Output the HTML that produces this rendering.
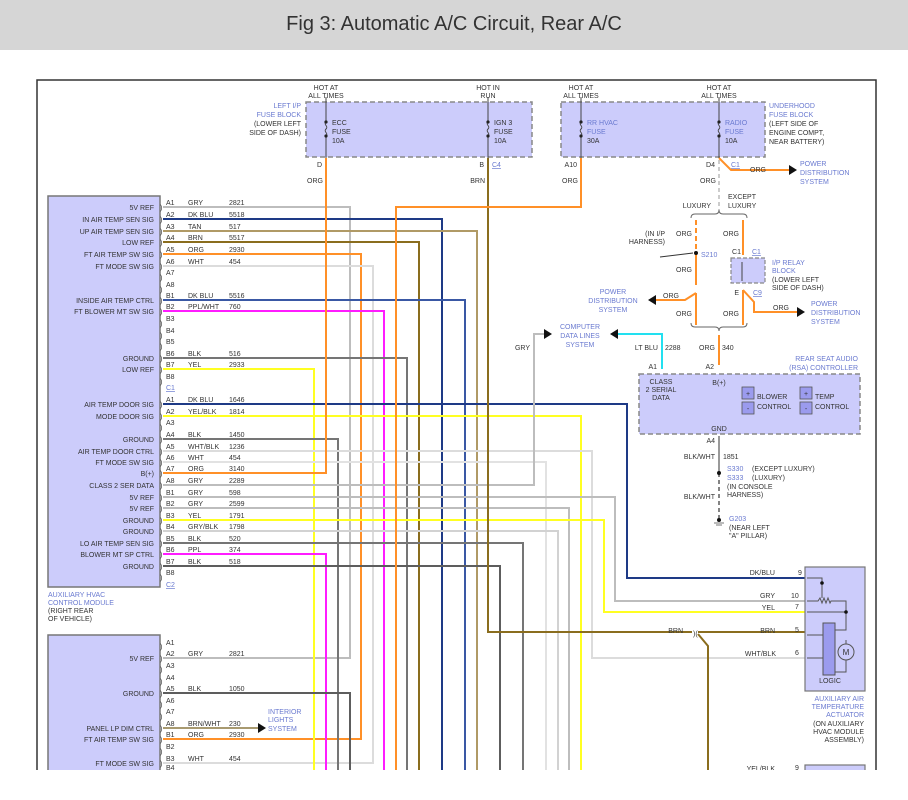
<!DOCTYPE html>
<html><head><meta charset="utf-8"><style>
html,body{margin:0;padding:0;background:#fff;width:908px;height:800px;overflow:hidden}
svg{display:block}
text{font-family:"Liberation Sans",sans-serif;font-size:7px;fill:#333}
.b{fill:#6a7ad0}
.r{text-anchor:end}
.m{text-anchor:middle}
</style></head><body>
<svg width="908" height="800" viewBox="0 0 908 800" xmlns="http://www.w3.org/2000/svg">
<rect x="0" y="0" width="908" height="50" fill="#d6d6d6"/>
<text x="454" y="30" class="m" style="font-size:20px;fill:#333">Fig 3: Automatic A/C Circuit, Rear A/C</text>
<!-- frame -->
<path d="M37,770 V80 H876 V770" fill="none" stroke="#333" stroke-width="1.5"/>

<!-- fuse blocks -->
<rect x="306" y="102" width="226" height="55" fill="#ccccfb" stroke="#888" stroke-dasharray="5,3" stroke-width="1.5"/>
<rect x="561" y="102" width="204" height="55" fill="#ccccfb" stroke="#888" stroke-dasharray="5,3" stroke-width="1.5"/>
<g fill="none" stroke="#444" stroke-width="1">
<path d="M326,97 V122 M326,136 V158 M326,122 c-3,3 3,4 0,7 c-3,3 3,4 0,7"/>
<path d="M488,97 V122 M488,136 V158 M488,122 c-3,3 3,4 0,7 c-3,3 3,4 0,7"/>
<path d="M581,97 V122 M581,136 V158 M581,122 c-3,3 3,4 0,7 c-3,3 3,4 0,7"/>
<path d="M719,97 V122 M719,136 V158 M719,122 c-3,3 3,4 0,7 c-3,3 3,4 0,7"/>
</g>
<g fill="#222"><circle cx="326" cy="122" r="1.6"/><circle cx="326" cy="136" r="1.6"/><circle cx="488" cy="122" r="1.6"/><circle cx="488" cy="136" r="1.6"/><circle cx="581" cy="122" r="1.6"/><circle cx="581" cy="136" r="1.6"/><circle cx="719" cy="122" r="1.6"/><circle cx="719" cy="136" r="1.6"/></g>
<text x="326" y="90" class="m">HOT AT</text><text x="326" y="98" class="m">ALL TIMES</text>
<text x="488" y="90" class="m">HOT IN</text><text x="488" y="98" class="m">RUN</text>
<text x="581" y="90" class="m">HOT AT</text><text x="581" y="98" class="m">ALL TIMES</text>
<text x="719" y="90" class="m">HOT AT</text><text x="719" y="98" class="m">ALL TIMES</text>
<text x="301" y="108" class="r b">LEFT I/P</text><text x="301" y="117" class="r b">FUSE BLOCK</text><text x="301" y="126" class="r">(LOWER LEFT</text><text x="301" y="135" class="r">SIDE OF DASH)</text>
<text x="332" y="125">ECC</text><text x="332" y="134">FUSE</text><text x="332" y="143">10A</text>
<text x="494" y="125">IGN 3</text><text x="494" y="134">FUSE</text><text x="494" y="143">10A</text>
<text x="587" y="125" class="b">RR HVAC</text><text x="587" y="134" class="b">FUSE</text><text x="587" y="143">30A</text>
<text x="725" y="125" class="b">RADIO</text><text x="725" y="134" class="b">FUSE</text><text x="725" y="143">10A</text>
<text x="769" y="108" class="b">UNDERHOOD</text><text x="769" y="117" class="b">FUSE BLOCK</text><text x="769" y="126">(LEFT SIDE OF</text><text x="769" y="135">ENGINE COMPT,</text><text x="769" y="144">NEAR BATTERY)</text>
<text x="322" y="167" class="r">D</text><text x="484" y="167" class="r">B</text><text x="492" y="167" class="b" text-decoration="underline">C4</text>
<text x="577" y="167" class="r">A10</text><text x="715" y="167" class="r">D4</text><text x="731" y="167" class="b" text-decoration="underline">C1</text>
<text x="323" y="183" class="r">ORG</text><text x="485" y="183" class="r">BRN</text><text x="578" y="183" class="r">ORG</text><text x="716" y="183" class="r">ORG</text>

<!-- module boxes -->
<rect x="48" y="196" width="112" height="391" fill="#ccccfb" stroke="#777" stroke-width="1.5"/>
<rect x="48" y="635" width="112" height="140" fill="#ccccfb" stroke="#777" stroke-width="1.5"/>
<text x="48" y="597" class="b">AUXILIARY HVAC</text><text x="48" y="605" class="b">CONTROL MODULE</text><text x="48" y="613">(RIGHT REAR</text><text x="48" y="621">OF VEHICLE)</text>

<!-- wires -->
<g fill="none" stroke-width="2">
<path d="M163,207 H350 V658 H163" stroke="#bdbdbd"/>
<path d="M163,219 H442 V770" stroke="#1e3a86"/>
<path d="M163,231 H477 V770" stroke="#b09a66"/>
<path d="M163,242 H419 V770" stroke="#8a6d1e"/>
<path d="M163,254 H361 V739 H163" stroke="#ff9028"/>
<path d="M163,266 H373 V763 H163" stroke="#dcdcdc"/>
<path d="M163,300 H465 V770" stroke="#3a58a4"/>
<path d="M163,311 H384 V770" stroke="#ff1cff"/>
<path d="M163,358 H407 V770" stroke="#757575"/>
<path d="M163,369 H314 V770" stroke="#ffff22"/>
<path d="M163,404 H627 V578 H805" stroke="#1e3a86"/>
<path d="M163,416 H581 V770" stroke="#ffff22"/>
<path d="M163,439 H338 V770" stroke="#757575"/>
<path d="M163,451 H592 V658 H805" stroke="#dcdcdc"/>
<path d="M163,462 H546 V770" stroke="#e2e2e2"/>
<path d="M163,473 H326 V158" stroke="#ff9028"/>
<path d="M163,485 H534 V334 H545" stroke="#bdbdbd"/>
<path d="M163,497 H615 V601 H805" stroke="#bdbdbd"/>
<path d="M163,508 H569 V770" stroke="#bdbdbd"/>
<path d="M163,520 H604 V612 H805" stroke="#ffff22"/>
<path d="M163,531 H558 V770" stroke="#d2d2d2"/>
<path d="M163,543 H523 V770" stroke="#757575"/>
<path d="M163,554 H326 V770" stroke="#ff1cff"/>
<path d="M163,566 H500 V770" stroke="#5d5d5d"/>
<path d="M488,158 V632 H692 M698,632 H805 M698,634 L708,646 V770" stroke="#8a6d1e"/>
<path d="M581,158 V207 H396 V770" stroke="#ff9028"/>
<path d="M163,693 H350 V770" stroke="#5d5d5d"/>
<path d="M163,728 H258" stroke="#a89a70"/>
<path d="M719,158 L731,170 H790" stroke="#ff9028"/>
<!-- right side orange -->
<path d="M696,220 V253" stroke="#ff9028" stroke-dasharray="5,3"/>
<path d="M696,253 V285 M696,293 V325 M696,293 L685,300 H655" stroke="#ff9028"/>
<path d="M743,220 V255 M743,290 V325 M743,290 L754,302 V312 H798" stroke="#ff9028"/>
<path d="M719,335 V365" stroke="#ff9028"/>
<path d="M662,369 V334 H617" stroke="#22e0f0"/>
</g>
<path d="M719,160 V212" stroke="#999" stroke-dasharray="4,3" fill="none"/>
<!-- arrows -->
<g fill="#111">
<polygon points="797,170 789,165 789,175"/>
<polygon points="805,312 797,307 797,317"/>
<polygon points="648,300 656,295 656,305"/>
<polygon points="610,334 618,329 618,339"/>
<polygon points="552,334 544,329 544,339"/>
<polygon points="266,728 258,723 258,733"/>
</g>
<text x="750" y="172">ORG</text>
<text x="800" y="166" class="b">POWER</text><text x="800" y="175" class="b">DISTRIBUTION</text><text x="800" y="184" class="b">SYSTEM</text>
<!-- braces -->
<g fill="none" stroke="#666" stroke-width="1">
<path d="M691,218 q0,-4 4,-4 h20 q4,0 4,-4 q0,4 4,4 h20 q4,0 4,4"/>
<path d="M691,323 q0,4 4,4 h20 q4,0 4,4 q0,-4 4,-4 h20 q4,0 4,-4"/>
<path d="M660,257 L693,253" stroke="#333"/>
<path d="M742,262 V281 M739,265 l3,-3 l3,3 M739,278 l3,3 l3,-3"/>
</g>
<text x="711" y="208" class="r">LUXURY</text><text x="728" y="199">EXCEPT</text><text x="728" y="208">LUXURY</text>
<circle cx="696" cy="253" r="2" fill="#111"/>
<text x="692" y="236" class="r">ORG</text><text x="739" y="236" class="r">ORG</text>
<text x="665" y="236" class="r">(IN I/P</text><text x="665" y="244" class="r">HARNESS)</text>
<text x="701" y="257" class="b">S210</text>
<text x="692" y="272" class="r">ORG</text>
<text x="692" y="316" class="r">ORG</text><text x="739" y="316" class="r">ORG</text>
<text x="679" y="298" class="r">ORG</text>
<text x="613" y="294" class="m b">POWER</text><text x="613" y="303" class="m b">DISTRIBUTION</text><text x="613" y="312" class="m b">SYSTEM</text>
<text x="741" y="254" class="r">C1</text><text x="752" y="254" class="b" text-decoration="underline">C1</text>
<rect x="731" y="258" width="34" height="25" fill="#ccccfb" stroke="#888" stroke-dasharray="4,2" stroke-width="1.2"/>
<path d="M742,262 V281" stroke="#444"/>
<text x="772" y="265" class="b">I/P RELAY</text><text x="772" y="273" class="b">BLOCK</text><text x="772" y="282">(LOWER LEFT</text><text x="772" y="290">SIDE OF DASH)</text>
<text x="739" y="295" class="r">E</text><text x="753" y="295" class="b" text-decoration="underline">C9</text>
<text x="773" y="310">ORG</text>
<text x="811" y="306" class="b">POWER</text><text x="811" y="315" class="b">DISTRIBUTION</text><text x="811" y="324" class="b">SYSTEM</text>
<text x="580" y="329" class="m b">COMPUTER</text><text x="580" y="338" class="m b">DATA LINES</text><text x="580" y="347" class="m b">SYSTEM</text>
<text x="530" y="350" class="r">GRY</text>
<text x="658" y="350" class="r">LT BLU</text><text x="665" y="350">2288</text>
<text x="715" y="350" class="r">ORG</text><text x="722" y="350">340</text>
<text x="657" y="369" class="r">A1</text><text x="714" y="369" class="r">A2</text>
<!-- RSA -->
<text x="858" y="361" class="r b">REAR SEAT AUDIO</text><text x="858" y="370" class="r b">(RSA) CONTROLLER</text>
<rect x="639" y="374" width="221" height="60" fill="#ccccfb" stroke="#888" stroke-dasharray="5,3" stroke-width="1.5"/>
<text x="661" y="384" class="m">CLASS</text><text x="661" y="392" class="m">2 SERIAL</text><text x="661" y="400" class="m">DATA</text>
<text x="719" y="385" class="m">B(+)</text>
<g fill="#9b9bee" stroke="#555" stroke-width="0.8">
<rect x="742" y="387" width="12" height="12"/><rect x="742" y="402" width="12" height="12"/>
<rect x="800" y="387" width="12" height="12"/><rect x="800" y="402" width="12" height="12"/>
</g>
<text x="748" y="396" class="m">+</text><text x="748" y="411" class="m">-</text><text x="806" y="396" class="m">+</text><text x="806" y="411" class="m">-</text>
<text x="757" y="399">BLOWER</text><text x="757" y="409">CONTROL</text>
<text x="815" y="399">TEMP</text><text x="815" y="409">CONTROL</text>
<text x="719" y="431" class="m">GND</text>
<text x="715" y="443" class="r">A4</text>
<path d="M719,436 V473" stroke="#555" stroke-width="1.2"/>
<path d="M719,473 V518" stroke="#333" stroke-width="1.2" stroke-dasharray="4,3"/>
<circle cx="719" cy="473" r="2" fill="#111"/><circle cx="719" cy="520" r="2" fill="#111"/>
<path d="M714,523 h10 M716,525 h6" stroke="#777"/>
<text x="715" y="459" class="r">BLK/WHT</text><text x="723" y="459">1851</text>
<text x="727" y="471" class="b">S330</text><text x="752" y="471">(EXCEPT LUXURY)</text>
<text x="727" y="480" class="b">S333</text><text x="752" y="480">(LUXURY)</text>
<text x="727" y="489">(IN CONSOLE</text><text x="727" y="497">HARNESS)</text>
<text x="715" y="499" class="r">BLK/WHT</text>
<text x="729" y="521" class="b">G203</text><text x="729" y="530">(NEAR LEFT</text><text x="729" y="538">"A" PILLAR)</text>

<!-- actuator -->
<rect x="805" y="567" width="60" height="124" fill="#ccccfb" stroke="#777" stroke-width="1.2"/>
<g fill="none" stroke="#555" stroke-width="1">
<path d="M807,578 H822 V598 M807,601 H818 l2,-3 l2,5 l2,-5 l2,5 l2,-5 l2,5 l1,-2 H846 V630 H835 M807,612 H846 M807,635 H823 M807,658 H823 M835,672 H846 V660 M846,644 V640"/>
</g>
<circle cx="822" cy="583" r="1.8" fill="#111"/><circle cx="846" cy="612" r="1.8" fill="#111"/>
<rect x="823" y="623" width="12" height="52" fill="#9b9bee" stroke="#555"/>
<circle cx="846" cy="652" r="8" fill="#ccccfb" stroke="#555"/><text x="846" y="655" class="m" style="font-size:8px">M</text>
<text x="830" y="683" class="m">LOGIC</text>
<text x="775" y="575" class="r">DK/BLU</text><text x="798" y="575">9</text>
<text x="775" y="598" class="r">GRY</text><text x="791" y="598">10</text>
<text x="775" y="610" class="r">YEL</text><text x="795" y="609">7</text>
<text x="775" y="633" class="r">BRN</text><text x="795" y="632">5</text>
<text x="776" y="656" class="r">WHT/BLK</text><text x="795" y="655">6</text>
<text x="683" y="633" class="r">BRN</text>
<text x="693" y="636">)(</text>
<text x="864" y="701" class="r b">AUXILIARY AIR</text><text x="864" y="709" class="r b">TEMPERATURE</text><text x="864" y="717" class="r b">ACTUATOR</text>
<text x="864" y="726" class="r">(ON AUXILIARY</text><text x="864" y="734" class="r">HVAC MODULE</text><text x="864" y="742" class="r">ASSEMBLY)</text>
<rect x="805" y="765" width="60" height="20" fill="#ccccfb" stroke="#777" stroke-width="1.2"/>
<text x="775" y="771" class="r">YEL/BLK</text><text x="795" y="770">9</text>
<rect x="0" y="770" width="908" height="30" fill="#fff"/>

<!-- upper module rows -->
<g>
<text x="154" y="210" class="r">5V REF</text>
<text x="154" y="222" class="r">IN AIR TEMP SEN SIG</text>
<text x="154" y="234" class="r">UP AIR TEMP SEN SIG</text>
<text x="154" y="245" class="r">LOW REF</text>
<text x="154" y="257" class="r">FT AIR TEMP SW SIG</text>
<text x="154" y="269" class="r">FT MODE SW SIG</text>
<text x="154" y="303" class="r">INSIDE AIR TEMP CTRL</text>
<text x="154" y="314" class="r">FT BLOWER MT SW SIG</text>
<text x="154" y="361" class="r">GROUND</text>
<text x="154" y="372" class="r">LOW REF</text>
<text x="154" y="407" class="r">AIR TEMP DOOR SIG</text>
<text x="154" y="419" class="r">MODE DOOR SIG</text>
<text x="154" y="442" class="r">GROUND</text>
<text x="154" y="454" class="r">AIR TEMP DOOR CTRL</text>
<text x="154" y="465" class="r">FT MODE SW SIG</text>
<text x="154" y="476" class="r">B(+)</text>
<text x="154" y="488" class="r">CLASS 2 SER DATA</text>
<text x="154" y="500" class="r">5V REF</text>
<text x="154" y="511" class="r">5V REF</text>
<text x="154" y="523" class="r">GROUND</text>
<text x="154" y="534" class="r">GROUND</text>
<text x="154" y="546" class="r">LO AIR TEMP SEN SIG</text>
<text x="154" y="557" class="r">BLOWER MT SP CTRL</text>
<text x="154" y="569" class="r">GROUND</text>
<text x="154" y="661" class="r">5V REF</text>
<text x="154" y="696" class="r">GROUND</text>
<text x="154" y="731" class="r">PANEL LP DIM CTRL</text>
<text x="154" y="742" class="r">FT AIR TEMP SW SIG</text>
<text x="154" y="766" class="r">FT MODE SW SIG</text>
</g>
<g style="font-size:8px">
<text x="160" y="210">)</text><text x="160" y="222">)</text><text x="160" y="234">)</text><text x="160" y="245">)</text><text x="160" y="257">)</text><text x="160" y="269">)</text><text x="160" y="280">)</text><text x="160" y="292">)</text><text x="160" y="303">)</text><text x="160" y="314">)</text><text x="160" y="326">)</text><text x="160" y="338">)</text><text x="160" y="349">)</text><text x="160" y="361">)</text><text x="160" y="372">)</text><text x="160" y="384">)</text>
<text x="160" y="407">)</text><text x="160" y="419">)</text><text x="160" y="430">)</text><text x="160" y="442">)</text><text x="160" y="454">)</text><text x="160" y="465">)</text><text x="160" y="476">)</text><text x="160" y="488">)</text><text x="160" y="500">)</text><text x="160" y="511">)</text><text x="160" y="523">)</text><text x="160" y="534">)</text><text x="160" y="546">)</text><text x="160" y="557">)</text><text x="160" y="569">)</text><text x="160" y="580">)</text>
<text x="160" y="649">)</text><text x="160" y="661">)</text><text x="160" y="672">)</text><text x="160" y="684">)</text><text x="160" y="696">)</text><text x="160" y="707">)</text><text x="160" y="719">)</text><text x="160" y="731">)</text><text x="160" y="742">)</text><text x="160" y="754">)</text><text x="160" y="766">)</text>
</g>
<g>
<text x="166" y="205">A1</text><text x="188" y="205">GRY</text><text x="229" y="205">2821</text>
<text x="166" y="217">A2</text><text x="188" y="217">DK BLU</text><text x="229" y="217">5518</text>
<text x="166" y="229">A3</text><text x="188" y="229">TAN</text><text x="229" y="229">517</text>
<text x="166" y="240">A4</text><text x="188" y="240">BRN</text><text x="229" y="240">5517</text>
<text x="166" y="252">A5</text><text x="188" y="252">ORG</text><text x="229" y="252">2930</text>
<text x="166" y="264">A6</text><text x="188" y="264">WHT</text><text x="229" y="264">454</text>
<text x="166" y="275">A7</text><text x="166" y="287">A8</text>
<text x="166" y="298">B1</text><text x="188" y="298">DK BLU</text><text x="229" y="298">5516</text>
<text x="166" y="309">B2</text><text x="188" y="309">PPL/WHT</text><text x="229" y="309">760</text>
<text x="166" y="321">B3</text><text x="166" y="333">B4</text><text x="166" y="344">B5</text>
<text x="166" y="356">B6</text><text x="188" y="356">BLK</text><text x="229" y="356">516</text>
<text x="166" y="367">B7</text><text x="188" y="367">YEL</text><text x="229" y="367">2933</text>
<text x="166" y="379">B8</text><text x="166" y="390" class="b" text-decoration="underline">C1</text>
<text x="166" y="402">A1</text><text x="188" y="402">DK BLU</text><text x="229" y="402">1646</text>
<text x="166" y="414">A2</text><text x="188" y="414">YEL/BLK</text><text x="229" y="414">1814</text>
<text x="166" y="425">A3</text>
<text x="166" y="437">A4</text><text x="188" y="437">BLK</text><text x="229" y="437">1450</text>
<text x="166" y="449">A5</text><text x="188" y="449">WHT/BLK</text><text x="229" y="449">1236</text>
<text x="166" y="460">A6</text><text x="188" y="460">WHT</text><text x="229" y="460">454</text>
<text x="166" y="471">A7</text><text x="188" y="471">ORG</text><text x="229" y="471">3140</text>
<text x="166" y="483">A8</text><text x="188" y="483">GRY</text><text x="229" y="483">2289</text>
<text x="166" y="495">B1</text><text x="188" y="495">GRY</text><text x="229" y="495">598</text>
<text x="166" y="506">B2</text><text x="188" y="506">GRY</text><text x="229" y="506">2599</text>
<text x="166" y="518">B3</text><text x="188" y="518">YEL</text><text x="229" y="518">1791</text>
<text x="166" y="529">B4</text><text x="188" y="529">GRY/BLK</text><text x="229" y="529">1798</text>
<text x="166" y="541">B5</text><text x="188" y="541">BLK</text><text x="229" y="541">520</text>
<text x="166" y="552">B6</text><text x="188" y="552">PPL</text><text x="229" y="552">374</text>
<text x="166" y="564">B7</text><text x="188" y="564">BLK</text><text x="229" y="564">518</text>
<text x="166" y="575">B8</text><text x="166" y="587" class="b" text-decoration="underline">C2</text>
<text x="166" y="645">A1</text>
<text x="166" y="656">A2</text><text x="188" y="656">GRY</text><text x="229" y="656">2821</text>
<text x="166" y="668">A3</text><text x="166" y="680">A4</text>
<text x="166" y="691">A5</text><text x="188" y="691">BLK</text><text x="229" y="691">1050</text>
<text x="166" y="703">A6</text><text x="166" y="714">A7</text>
<text x="166" y="726">A8</text><text x="188" y="726">BRN/WHT</text><text x="229" y="726">230</text>
<text x="166" y="737">B1</text><text x="188" y="737">ORG</text><text x="229" y="737">2930</text>
<text x="166" y="749">B2</text>
<text x="166" y="761">B3</text><text x="188" y="761">WHT</text><text x="229" y="761">454</text>
<text x="166" y="770">B4</text>
<text x="268" y="714" class="b">INTERIOR</text><text x="268" y="722" class="b">LIGHTS</text><text x="268" y="731" class="b">SYSTEM</text>
</g>
</svg>
</body></html>
